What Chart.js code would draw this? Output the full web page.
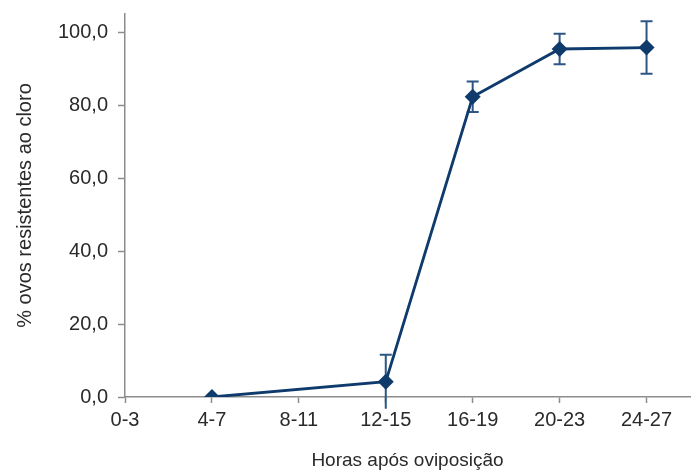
<!DOCTYPE html>
<html>
<head>
<meta charset="utf-8">
<script src="https://cdn.jsdelivr.net/npm/chart.js@4/dist/chart.umd.min.js"></script>
<style>
  body { margin: 0; background: #fff; }
  canvas { display: block; }
</style>
</head>
<body>
<canvas id="ovosChart" width="699" height="474"></canvas>
<script>
// categorias (horas após oviposição) e valores
const categories = ['0-3', '4-7', '8-11', '12-15', '16-19', '20-23', '24-27']
const resistentes = [null, 0, null, 4.2, 82.3, 95.4, 95.8]
const erros = [null, 0, null, 7.4, 4.2, 4.2, 7.2]
const yTicks = [0, 20, 40, 60, 80, 100]

const navy = '#0f3a6c'
const axisGray = '#8c8c8c'
const textColor = '#2a2a2a'

// error bars drawn under the markers
const errorBars = {
    id: 'errorBars',
    beforeDatasetsDraw(chart) {
        const ctx = chart.ctx
        const x = chart.scales.x
        const y = chart.scales.y
        ctx.save()
        ctx.strokeStyle = '#2d5585'
        ctx.lineWidth = 2
        resistentes.forEach((v, i) => {
            if (v === null || !erros[i]) return
            const px = x.getPixelForValue(i)
            const top = y.getPixelForValue(v + erros[i])
            const bot = y.getPixelForValue(v - erros[i])
            ctx.beginPath()
            ctx.moveTo(px, top)
            ctx.lineTo(px, bot)
            ctx.moveTo(px - 6, top)
            ctx.lineTo(px + 6, top)
            if (v - erros[i] >= 0) {
                ctx.moveTo(px - 6, bot)
                ctx.lineTo(px + 6, bot)
            }
            ctx.stroke()
        })
        ctx.restore()
    }
}

const ctx = document.getElementById('ovosChart').getContext('2d')

new Chart(ctx, {
    type: 'line',
    data: {
        datasets: [{
            data: resistentes.map((v, i) => ({ x: i, y: v })),
            borderColor: navy,
            borderWidth: 2.8,
            backgroundColor: navy,
            pointStyle: 'rectRot',
            pointRadius: 8,
            pointBorderWidth: 0,
            pointBackgroundColor: navy,
            spanGaps: true,
            tension: 0,
            fill: false
        }]
    },
    options: {
        responsive: false,
        animation: false,
        layout: {
            padding: { top: 14, right: 9, left: 0, bottom: 0 }
        },
        plugins: {
            legend: { display: false },
            tooltip: { enabled: false }
        },
        scales: {
            x: {
                type: 'linear',
                min: 0,
                max: 6.5,
                afterFit: (scale) => {
                    scale.height = 77
                    scale.paddingLeft = 0
                    scale.paddingRight = 0
                },
                grid: {
                    drawOnChartArea: false,
                    drawTicks: true,
                    tickLength: 6,
                    tickColor: axisGray,
                    tickWidth: 1.5
                },
                border: { color: axisGray, width: 1.5 },
                ticks: {
                    stepSize: 1,
                    includeBounds: false,
                    autoSkip: false,
                    maxRotation: 0,
                    padding: 5,
                    color: textColor,
                    font: { family: 'Liberation Sans', size: 20 },
                    callback: (v) => Number.isInteger(v) ? categories[v] : ''
                },
                title: {
                    display: true,
                    text: 'Horas após oviposição',
                    color: textColor,
                    font: { family: 'Liberation Sans', size: 19 },
                    padding: { top: 0, bottom: 2 }
                }
            },
            y: {
                min: 0,
                max: 105,
                afterFit: (scale) => {
                    scale.width = 125
                    scale.paddingTop = 0
                    scale.paddingBottom = 0
                },
                afterBuildTicks: (scale) => {
                    scale.ticks = yTicks.map(v => ({ value: v }))
                },
                grid: {
                    drawOnChartArea: false,
                    drawTicks: true,
                    tickLength: 7,
                    tickColor: axisGray,
                    tickWidth: 1.5
                },
                border: { color: axisGray, width: 1.5 },
                ticks: {
                    padding: 10,
                    color: textColor,
                    font: { family: 'Liberation Sans', size: 20 },
                    callback: (v) => v.toFixed(1).replace('.', ',')
                },
                title: {
                    display: true,
                    text: '% ovos resistentes ao cloro',
                    color: textColor,
                    font: { family: 'Liberation Sans', size: 20 },
                    padding: { top: 13, bottom: 0 }
                }
            }
        }
    },
    plugins: [errorBars]
})
</script>
</body>
</html>
